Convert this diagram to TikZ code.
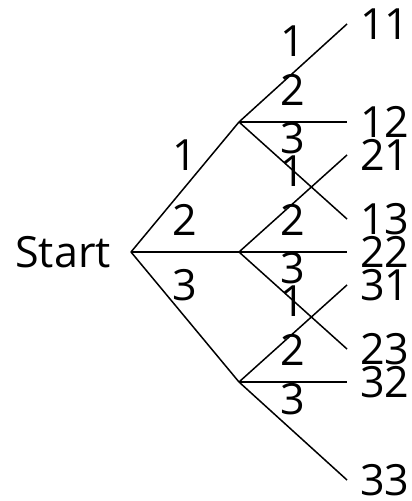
\documentclass[tikz,border=0pt]{standalone}
\usepackage{fontspec}
\setmainfont{Open Sans}
\begin{document}
\begin{tikzpicture}[x=1pt,y=1pt,
  br/.style={line width=1.5pt},
  leaf/.style={anchor=west,inner xsep=13pt,inner ysep=0pt,font=\fontsize{43}{50}\selectfont},
  lab/.style={midway,yshift=32pt,inner sep=0pt,font=\fontsize{43}{50}\selectfont}]
\useasboundingbox (0,0) rectangle (412,501);
\coordinate (root) at (131,249);
\node[anchor=east,inner xsep=20pt,inner ysep=0pt,font=\fontsize{43}{50}\selectfont] (start) at (root) {Start};
\coordinate (A) at (239,379);
\coordinate (B) at (239,249);
\coordinate (C) at (239,119);
\node[leaf] (l11) at (347,477) {11};
\node[leaf] (l12) at (347,379) {12};
\node[leaf] (l13) at (347,282) {13};
\node[leaf] (l21) at (347,346) {21};
\node[leaf] (l22) at (347,249) {22};
\node[leaf] (l23) at (347,152) {23};
\node[leaf] (l31) at (347,216) {31};
\node[leaf] (l32) at (347,119) {32};
\node[leaf] (l33) at (347,21) {33};
\draw[br] (root) -- node[lab]{1} (A);
\draw[br] (root) -- node[lab]{2} (B);
\draw[br] (root) -- node[lab]{3} (C);
\draw[br] (A) -- node[lab]{1} (l11.west);
\draw[br] (A) -- node[lab]{2} (l12.west);
\draw[br] (A) -- node[lab]{3} (l13.west);
\draw[br] (B) -- node[lab]{1} (l21.west);
\draw[br] (B) -- node[lab]{2} (l22.west);
\draw[br] (B) -- node[lab]{3} (l23.west);
\draw[br] (C) -- node[lab]{1} (l31.west);
\draw[br] (C) -- node[lab]{2} (l32.west);
\draw[br] (C) -- node[lab]{3} (l33.west);
\end{tikzpicture}
\end{document}
